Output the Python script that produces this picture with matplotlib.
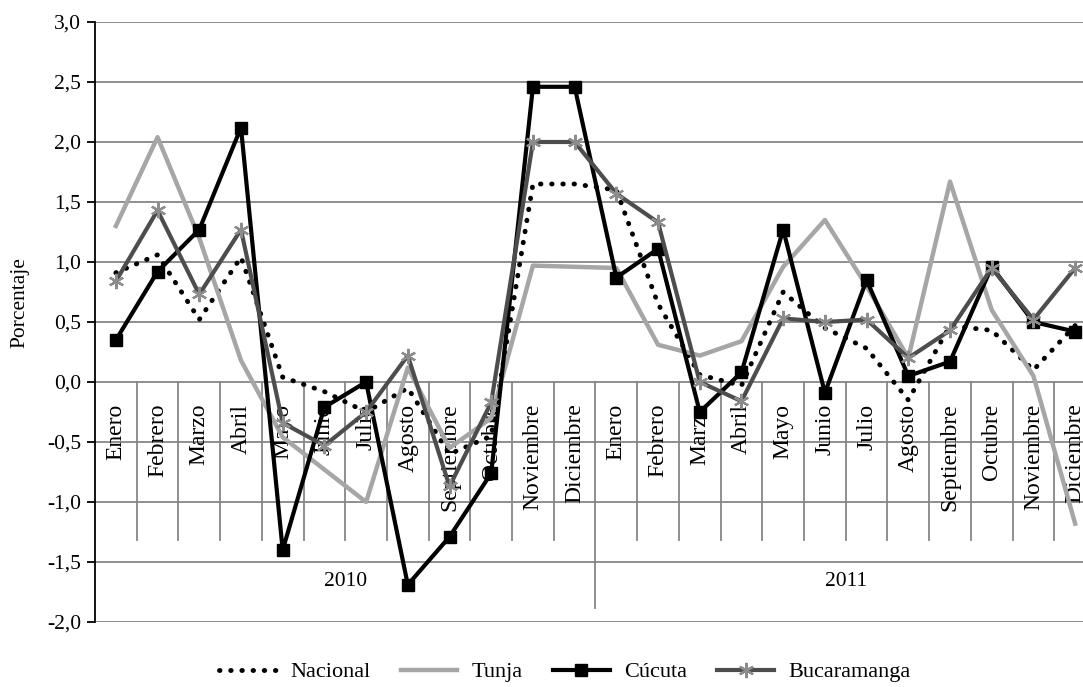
import matplotlib
matplotlib.use("Agg")
import matplotlib.pyplot as plt

plt.rcParams['font.family'] = ['Liberation Serif', 'DejaVu Serif']

# Datos (variación porcentual mensual)
meses = ['Enero', 'Febrero', 'Marzo', 'Abril', 'Mayo', 'Junio', 'Julio',
         'Agosto', 'Septiembre', 'Octubre', 'Noviembre', 'Diciembre']
anios = ['2010', '2011']

nacional = [0.91, 1.06, 0.52, 1.04, 0.04, -0.08, -0.25, -0.05, -0.6, -0.45, 1.65, 1.65,
            1.6, 0.65, 0.06, -0.03, 0.75, 0.45, 0.28, -0.15, 0.47, 0.43, 0.1, 0.47]
tunja = [1.3, 2.04, 1.2, 0.18, -0.46, -0.73, -1.0, 0.12, -0.55, -0.3, 0.97, 0.96,
         0.95, 0.31, 0.22, 0.34, 0.96, 1.35, 0.8, 0.2, 1.67, 0.6, 0.05, -1.18]
cucuta = [0.35, 0.92, 1.27, 2.12, -1.4, -0.21, 0.0, -1.69, -1.29, -0.76, 2.46, 2.46,
          0.87, 1.11, -0.25, 0.08, 1.27, -0.09, 0.85, 0.05, 0.17, 0.96, 0.5, 0.42]
bucaramanga = [0.84, 1.43, 0.73, 1.27, -0.34, -0.53, -0.25, 0.22, -0.87, -0.17, 2.0, 2.0,
               1.57, 1.33, 0.0, -0.16, 0.53, 0.5, 0.52, 0.2, 0.43, 0.95, 0.52, 0.95]

GRIS = '#868686'

fig = plt.figure(figsize=(10.83, 6.87), dpi=100)
ax = fig.add_axes([95 / 1083, 65 / 687, 1001 / 1083, 600 / 687])

n = len(nacional)
x = [i + 0.5 for i in range(n)]

ax.plot(x, nacional, color='black', lw=3.5, linestyle=(0, (0.1, 2.2)),
        dash_capstyle='round', zorder=3, label='Nacional')
ax.plot(x, tunja, color='#a6a6a6', lw=3.2, zorder=4, label='Tunja')
ax.plot(x, cucuta, color='black', lw=3, marker='s', markersize=8.5, zorder=5, label='Cúcuta')
ax.plot(x, bucaramanga, color='#4d4d4d', lw=3, marker=(6, 2, 0), markersize=11,
        markeredgecolor='#8c8c8c', markeredgewidth=1.6, zorder=6, label='Bucaramanga')

ax.set_xlim(0, n)
ax.set_ylim(-2.0, 3.0)
yt = [v / 2 for v in range(-4, 7)]
ax.set_yticks(yt)
ax.set_yticklabels([f'{v:.1f}'.replace('.', ',') for v in yt], fontsize=15.5)
for v in yt:
    ax.axhline(v, color=GRIS, lw=1.3, zorder=1)

for s in ['top', 'right', 'bottom']:
    ax.spines[s].set_visible(False)
ax.spines['left'].set_linewidth(1.3)
ax.tick_params(axis='y', direction='out', length=6, width=1.3, pad=4)
ax.set_xticks([])

# separadores de categorías y etiquetas de meses
for i in range(1, n + 1):
    y_fin = -1.88 if i == 12 else -1.32
    ax.plot([i, i], [0, y_fin], color=GRIS, lw=1.3, zorder=1, clip_on=False)
for i in range(n):
    ax.text(i + 0.5, -0.18, meses[i % 12], rotation=90, ha='center', va='top',
            fontsize=17, zorder=2)
for k, a in enumerate(anios):
    ax.text(6 + 12 * k, -1.66, a, ha='center', va='center', fontsize=15.5)

fig.text(20 / 1083, 1 - 303 / 687, 'Porcentaje', rotation=90, ha='center', va='center',
         fontsize=15.5)

ax.legend(loc='center', bbox_to_anchor=(565 / 1083, 15 / 687), bbox_transform=fig.transFigure,
          ncol=4, frameon=False, fontsize=16, handlelength=2.55, columnspacing=1.35,
          handletextpad=0.65)

fig.savefig('out.png', dpi=100)
